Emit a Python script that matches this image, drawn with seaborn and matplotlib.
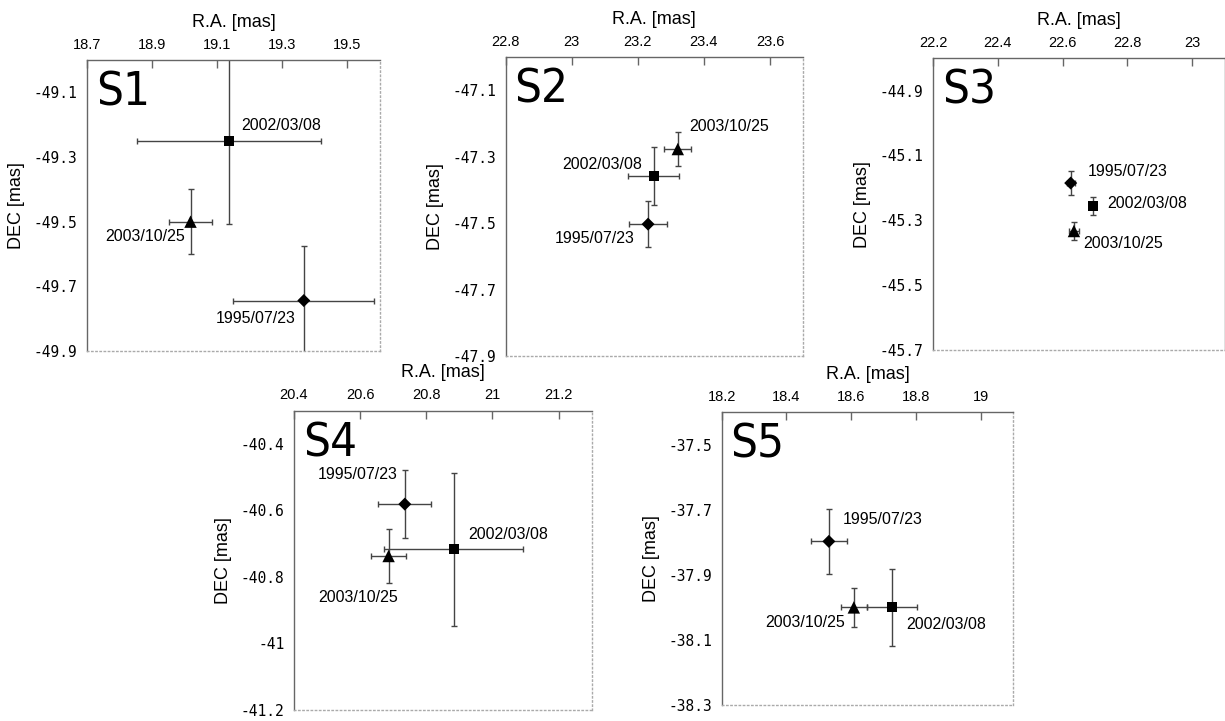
import numpy as np
import pandas as pd
import matplotlib
matplotlib.use('Agg')
import matplotlib.pyplot as plt
import seaborn as sns
from matplotlib.ticker import FormatStrFormatter

# epochs (same order in every star)
dates = ['1995/07/23', '2002/03/08', '2003/10/25']

# S1
s1_ra = [19.366, 19.137, 19.018]
s1_dec = [-49.744, -49.250, -49.500]
s1_ra_err = [0.217, 0.283, 0.067]
s1_dec_err = [0.170, 0.257, 0.100]

# S2
s2_ra = [23.231, 23.248, 23.321]
s2_dec = [-47.503, -47.359, -47.277]
s2_ra_err = [0.058, 0.078, 0.041]
s2_dec_err = [0.070, 0.087, 0.052]

# S3
s3_ra = [22.625, 22.694, 22.635]
s3_dec = [-45.185, -45.256, -45.333]
s3_ra_err = [0.012, 0.010, 0.015]
s3_dec_err = [0.036, 0.028, 0.027]

# S4
s4_ra = [20.735, 20.883, 20.686]
s4_dec = [-40.581, -40.717, -40.737]
s4_ra_err = [0.080, 0.210, 0.052]
s4_dec_err = [0.102, 0.231, 0.081]

# S5
s5_ra = [18.531, 18.726, 18.608]
s5_dec = [-37.797, -38.000, -38.000]
s5_ra_err = [0.056, 0.078, 0.040]
s5_dec_err = [0.100, 0.118, 0.061]

# axis ranges and ticks
s1_xlim, s1_ylim = (18.7, 19.6), (-49.9, -49.0)
s2_xlim, s2_ylim = (22.8, 23.7), (-47.9, -47.0)
s3_xlim, s3_ylim = (22.2, 23.1), (-45.7, -44.8)
s4_xlim, s4_ylim = (20.4, 21.3), (-41.2, -40.3)
s5_xlim, s5_ylim = (18.2, 19.1), (-38.3, -37.4)

s1_xticks = [18.7, 18.9, 19.1, 19.3, 19.5]
s2_xticks = [22.8, 23.0, 23.2, 23.4, 23.6]
s3_xticks = [22.2, 22.4, 22.6, 22.8, 23.0]
s4_xticks = [20.4, 20.6, 20.8, 21.0, 21.2]
s5_xticks = [18.2, 18.4, 18.6, 18.8, 19.0]

s1_yticks = [-49.9, -49.7, -49.5, -49.3, -49.1]
s2_yticks = [-47.9, -47.7, -47.5, -47.3, -47.1]
s3_yticks = [-45.7, -45.5, -45.3, -45.1, -44.9]
s4_yticks = [-41.2, -41.0, -40.8, -40.6, -40.4]
s5_yticks = [-38.3, -38.1, -37.9, -37.7, -37.5]

sns.set_style('white')
plt.rcParams['font.family'] = ['Liberation Sans', 'DejaVu Sans']
plt.rcParams['text.color'] = 'black'
plt.rcParams['axes.labelcolor'] = 'black'
plt.rcParams['xtick.labelcolor'] = 'black'
plt.rcParams['ytick.labelcolor'] = 'black'

markers = {'1995/07/23': 'D', '2002/03/08': 's', '2003/10/25': '^'}
marker_sizes = {'1995/07/23': 44, '2002/03/08': 52, '2003/10/25': 80}

# panel boxes in figure fraction: left, bottom, width, height
panels = [
    ('S1', s1_ra, s1_dec, s1_ra_err, s1_dec_err, s1_xlim, s1_ylim, s1_xticks, s1_yticks,
     [0.0710, 0.5132, 0.2392, 0.4036],
     [(-8, -18, 'right'), (12, 15, 'left'), (-6, -15, 'right')]),
    ('S2', s2_ra, s2_dec, s2_ra_err, s2_dec_err, s2_xlim, s2_ylim, s2_xticks, s2_yticks,
     [0.4128, 0.5062, 0.2427, 0.4147],
     [(-13, -14, 'right'), (-12, 12, 'right'), (11, 23, 'left')]),
    ('S3', s3_ra, s3_dec, s3_ra_err, s3_dec_err, s3_xlim, s3_ylim, s3_xticks, s3_yticks,
     [0.7616, 0.5146, 0.2381, 0.4046],
     [(17, 12, 'left'), (14, 3, 'left'), (9, -12, 'left')]),
    ('S4', s4_ra, s4_dec, s4_ra_err, s4_dec_err, s4_xlim, s4_ylim, s4_xticks, s4_yticks,
     [0.2400, 0.0153, 0.2430, 0.4151],
     [(-7, 30, 'right'), (14, 15, 'left'), (9, -41, 'right')]),
    ('S5', s5_ra, s5_dec, s5_ra_err, s5_dec_err, s5_xlim, s5_ylim, s5_xticks, s5_yticks,
     [0.5891, 0.0222, 0.2380, 0.4060],
     [(14, 22, 'left'), (14, -17, 'left'), (-9, -15, 'right')]),
]

fig = plt.figure(figsize=(12.25, 7.21), dpi=100)

for name, ra, dec, ra_err, dec_err, xlim, ylim, xt, yt, box, offs in panels:
    ax = fig.add_axes(box)
    df = pd.DataFrame({'ra': ra, 'dec': dec, 'ra_err': ra_err,
                       'dec_err': dec_err, 'date': dates})

    ax.errorbar(df['ra'], df['dec'], xerr=df['ra_err'], yerr=df['dec_err'],
                fmt='none', ecolor='#444444', elinewidth=1, capsize=2.5,
                capthick=1, zorder=2)
    sns.scatterplot(data=df, x='ra', y='dec', style='date', markers=markers,
                    size='date', sizes=marker_sizes,
                    color='black', edgecolor='black', linewidth=0,
                    legend=False, ax=ax, zorder=3)

    for (dx, dy, ha), (_, row) in zip(offs, df.iterrows()):
        ax.annotate(row['date'], (row['ra'], row['dec']), xytext=(dx, dy),
                    textcoords='offset pixels', ha=ha, va='center', fontsize=11.5,
                    color='black')

    # big panel tag in a condensed face
    ax.text(0.03, 0.965, name, transform=ax.transAxes, fontsize=34,
            ha='left', va='top', color='black',
            family='DejaVu Sans', fontstretch='condensed')

    ax.set_xlim(xlim)
    ax.set_ylim(ylim)
    ax.set_xticks(xt)
    ax.set_yticks(yt)
    ax.xaxis.set_major_formatter(FormatStrFormatter('%g'))
    ax.yaxis.set_major_formatter(FormatStrFormatter('%g'))
    ax.xaxis.tick_top()
    ax.xaxis.set_label_position('top')
    ax.tick_params(axis='x', direction='in', length=6, width=1, color='#666666',
                   labelsize=10.5, pad=6)
    ax.tick_params(axis='y', direction='out', length=4, width=1, color='#666666',
                   labelsize=10.5, pad=3)
    for lab in ax.get_yticklabels():
        lab.set_family('DejaVu Sans Mono')

    ax.set_xlabel('R.A. [mas]', fontsize=13, labelpad=8)
    ax.set_ylabel('DEC [mas]', fontsize=13, labelpad=6)

    for side in ['top', 'left']:
        ax.spines[side].set_color('#666666')
        ax.spines[side].set_linewidth(1)
    for side in ['right', 'bottom']:
        ax.spines[side].set_color('#aaaaaa')
        ax.spines[side].set_linestyle((0, (1, 2)))
        ax.spines[side].set_linewidth(1)
    if name == 'S3':
        # right edge of S3 sits at the picture border and shows solid there
        ax.spines['right'].set_color('#666666')
        ax.spines['right'].set_linestyle('-')

fig.savefig('out.png', dpi=100)
